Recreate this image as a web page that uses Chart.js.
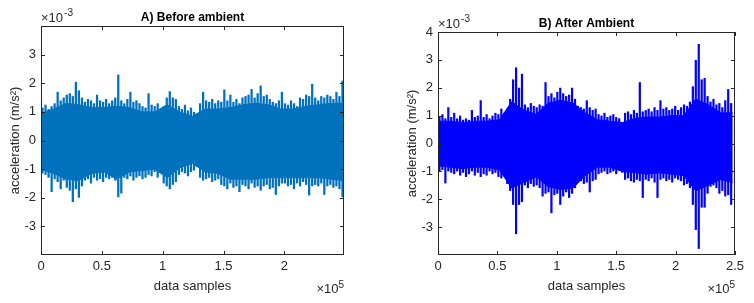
<!DOCTYPE html>
<html>
<head>
<meta charset="utf-8">
<script src="https://cdn.jsdelivr.net/npm/chart.js@4.4.0/dist/chart.umd.min.js"></script>
<style>
body{margin:0;background:#fff;}
.box{position:absolute;top:0;width:377px;height:303px;}
</style>
</head>
<body>
<div class="box" style="left:0"><canvas id="chartA" width="377" height="303"></canvas></div>
<div class="box" style="left:377px"><canvas id="chartB" width="377" height="303"></canvas></div>
<script>
// peak envelope of the record, one max/min pair per bin (units of 1e-3 m/s^2)
let beforeHigh=[1.15,1.25,1.1,1.2, 1.3,1.7,1.4,1.5, 1.6,1.65,1.55,2.05, 1.75,1.5,
  1.35,1.45,1.4,1.3,1.6,1.4,1.35,1.45,1.3,1.4,1.5, 2.3,
  1.4,1.3,1.45,1.7,1.35,1.4,1.3, 1.2,1.15,1.65,1.25,1.2,1.3,1.1,1.2,
  1.5,1.72,1.5,1.45, 1.2,1.1,1.25,1.05,1.15,1.0,0.95,
  1.3,1.7,1.4,1.35,1.45,1.3,1.4, 1.35,1.78,1.4,1.6,1.35,1.45,1.3,1.5,
  1.55,1.6,1.8,1.5,1.65,1.92,1.55,1.6,1.45, 1.35,1.3,1.4,1.7,1.3,1.25,1.4,1.3,1.2,
  1.5,1.45,1.6,1.55,1.98,1.5,1.4,1.55, 1.5,1.6,1.55,1.45,1.7,1.55,2.09];
let beforeLow=[-1.15,-1.2,-1.3,-1.8, -1.35,-1.45,-1.7,-1.4, -1.65,-1.75,-2.15,-1.7, -2.0,-1.6,
  -1.4,-1.35,-1.5,-1.3,-1.4,-1.35,-1.45,-1.3,-1.35,-1.3,-1.4, -1.98,-1.85,
  -1.3,-1.35,-1.25,-1.4,-1.3,-1.25,-1.35,-1.3,-1.2,-1.25,-1.1,-1.3, -0.95,
  -1.5,-1.6,-1.7,-1.55,-1.45, -1.2,-1.1,-1.15,-1.25,-1.1,-1.05,-0.93,
  -1.3,-1.4,-1.35,-1.3,-1.45,-1.4,-1.35,
  -1.55,-1.6,-1.7,-1.5,-1.65,-1.6,-1.8,-1.55,-1.6,-1.7,-1.5,-1.65,-1.6,-1.75,
  -1.6,-1.55,-1.7,-1.65,-1.9,-1.6,-1.5, -1.5,-1.6,-1.55,-1.7,-1.5,-1.6,-1.45,-1.55,-1.92,-1.6,
  -1.55,-1.6,-1.5,-1.9,-1.6,-1.55,-1.65,-1.6,-1.7,-1.98];
let afterHigh=[0.95,1.05,0.9,1.3, 0.95,1.1,0.9,1.0,0.85,
  0.9,0.85,1.2,0.95,1.0,1.55,0.95,1.05,0.9,1.0,1.1, 1.05,1.25,1.1,1.15,
  1.6,2.3,2.73,2.0,2.5, 1.4,1.3,1.45,1.35,1.3,1.4,1.35, 2.2,
  1.7,1.8,1.65,1.85,2.0,1.8,1.7,1.75,2.0,1.6, 1.35,1.3,1.25,1.55,1.3,1.2,1.25,
  1.05,1.0,1.1,0.95,1.0,1.05,0.95,0.9,0.7, 1.1,1.15,1.05,1.2,1.1,2.2,1.15,
  1.2,1.25,1.15,1.3,1.2,1.55,1.25,1.3,1.2,1.25,1.35,1.2,1.3,1.4,1.35,1.5,
  2.05,3.0,3.57,2.3, 2.35,1.7,1.5,1.6,1.4, 1.45,1.3,1.55,1.95,1.45];
let afterLow=[-1.0,-0.95,-1.43,-1.0,-1.05,
  -1.1,-1.0,-1.15,-1.05,-1.2,-1.1,-1.0,-1.15,-1.05,-1.2,-1.1,-1.15,-1.0,-1.1,-1.05,
  -1.2,-1.25,-1.15,-1.45, -1.7,-2.2,-3.25,-2.2,-2.1,
  -1.5,-1.6,-1.45,-1.55,-1.5,-1.6,-1.9,
  -1.8,-1.75,-2.5,-1.85,-1.8,-2.2,-1.9,-1.75,-1.95,-1.8,-1.6,
  -1.4,-1.35,-1.45,-1.4,-1.75,-1.35,-1.3,
  -1.1,-1.05,-1.0,-1.1,-1.05,-1.0,-1.1,-0.95,-1.05,
  -1.3,-1.25,-1.35,-1.4,-1.3,-1.35,-1.95,
  -1.3,-1.35,-1.25,-1.4,-1.95,-1.3,-1.25,-1.35,-1.3,-1.4,-1.25,-1.3,-1.35,-1.5,-1.45,-1.6,
  -2.2,-3.1,-3.78,-2.3, -2.3,-1.8,-1.55,-1.5,-1.6, -1.8,-1.7,-1.9,-1.85,-2.2];

// level of the dense (solid) part of the trace, coarser sampling
let beforeCoreHigh=[0.95,1.1,1.3,1.25,1.15,1.15,1.2,1.15,1.0,1.0,1.25,1.0,0.85,
  1.1,1.1,1.15,1.25,1.3,1.25,1.1,1.1,1.2,1.25,1.3,1.3];
let beforeCoreLow=[-1.0,-1.15,-1.35,-1.4,-1.15,-1.1,-1.35,-1.1,-1.05,-1.0,-1.3,-0.95,-0.8,
  -1.1,-1.15,-1.35,-1.35,-1.35,-1.3,-1.3,-1.3,-1.3,-1.3,-1.35,-1.4];
let afterCoreHigh=[0.8,0.8,0.75,0.8,0.8,0.85,1.5,1.2,1.05,1.45,1.55,1.45,1.1,
  0.85,0.8,0.75,0.9,0.95,0.95,1.0,1.0,1.6,1.4,1.1,1.1];
let afterCoreLow=[-0.8,-0.85,-0.9,-0.85,-0.85,-0.95,-1.6,-1.4,-1.2,-1.55,-1.65,-1.6,-1.15,
  -0.85,-0.85,-1.0,-1.05,-1.1,-1.05,-1.1,-1.15,-1.7,-1.5,-1.3,-1.4];

// record lengths (units of 1e5 samples)
let beforeSpan=2.49;
let afterSpan=2.48;

let xTicksA=[0,0.5,1,1.5,2];
let xTicksB=[0,0.5,1,1.5,2,2.5];
let yTicksA=[-3,-2,-1,0,1,2,3];
let yTicksB=[-3,-2,-1,0,1,2,3,4];

let ink="#262626";
let font="'Liberation Sans', Arial, sans-serif";

function bins(high,low,span){
    return high.map(function(h,i){
        return {x:(i+0.5)*span/high.length, y:[low[i],h]};
    });
}

function points(vals,span){
    return vals.map(function(v,i){
        return {x:i*span/(vals.length-1), y:v};
    });
}

function framePlugin(title){
    return {
        id:"frame",
        afterDraw:function(chart){
            let ctx=chart.ctx;
            let a=chart.chartArea;
            let xs=chart.scales.x, ys=chart.scales.y;
            ctx.save();
            ctx.strokeStyle=ink;
            ctx.lineWidth=1;
            ctx.beginPath();
            xs.ticks.forEach(function(t){
                let px=Math.round(xs.getPixelForValue(t.value))+0.5;
                ctx.moveTo(px,a.bottom); ctx.lineTo(px,a.bottom-4);
                ctx.moveTo(px,a.top); ctx.lineTo(px,a.top+4);
            });
            ys.ticks.forEach(function(t){
                let py=Math.round(ys.getPixelForValue(t.value))+0.5;
                ctx.moveTo(a.left,py); ctx.lineTo(a.left+4,py);
                ctx.moveTo(a.right,py); ctx.lineTo(a.right-4,py);
            });
            ctx.stroke();
            ctx.strokeRect(a.left+0.5,a.top+0.5,a.right-a.left-1,a.bottom-a.top-1);

            ctx.fillStyle="#000";
            ctx.font="bold 12px "+font;
            ctx.textAlign="center";
            ctx.textBaseline="alphabetic";
            ctx.fillText(title,(a.left+a.right)/2,a.top-5.5);

            // exponent labels
            ctx.fillStyle=ink;
            ctx.textAlign="left";
            ctx.font="13px "+font;
            let w=ctx.measureText("\u00d710").width;
            ctx.fillText("\u00d710",a.left,a.top-4);
            ctx.font="10px "+font;
            ctx.fillText("-3",a.left+w+1,a.top-10);

            let w5=ctx.measureText("5").width;
            ctx.textAlign="right";
            ctx.fillText("5",a.right,a.bottom+33);
            ctx.font="13px "+font;
            ctx.fillText("\u00d710",a.right-w5,a.bottom+38);
            ctx.restore();
        }
    };
}

function makeChart(id,high,low,coreHigh,coreLow,span,color,xMax,xTicks,yTicks,pad,yWidth,yTitlePad,title){
    return new Chart(document.getElementById(id),{
        type:"bar",
        data:{
            datasets:[{
                type:"line",
                data:points(coreHigh,span),
                borderColor:color,
                borderWidth:1,
                pointRadius:0,
                tension:0,
                fill:false
            },{
                type:"line",
                data:points(coreLow,span),
                borderColor:color,
                backgroundColor:color,
                borderWidth:1,
                pointRadius:0,
                tension:0,
                fill:"-1"
            },{
                type:"bar",
                data:bins(high,low,span),
                backgroundColor:color,
                borderWidth:0,
                barPercentage:0.75,
                categoryPercentage:1
            }]
        },
        options:{
            responsive:false,
            animation:false,
            devicePixelRatio:1,
            layout:{padding:pad},
            plugins:{legend:{display:false},tooltip:{enabled:false}},
            scales:{
                x:{
                    type:"linear",
                    min:0,
                    max:xMax,
                    offset:false,
                    grid:{display:false,drawTicks:false},
                    border:{display:false},
                    afterBuildTicks:function(s){ s.ticks=xTicks.map(function(v){return {value:v};}); },
                    afterFit:function(s){ s.height=48; },
                    ticks:{
                        color:ink,
                        font:{family:font,size:13},
                        padding:4,
                        maxRotation:0,
                        autoSkip:false,
                        callback:function(v){ return String(v); }
                    },
                    title:{
                        display:true,
                        text:"data samples",
                        color:ink,
                        font:{family:font,size:13},
                        padding:{top:0,bottom:9}
                    }
                },
                y:{
                    min:-4,
                    max:4,
                    grid:{display:false,drawTicks:false},
                    border:{display:false},
                    afterBuildTicks:function(s){ s.ticks=yTicks.map(function(v){return {value:v};}); },
                    afterFit:function(s){ s.width=yWidth; },
                    ticks:{
                        color:ink,
                        font:{family:font,size:13},
                        padding:5,
                        callback:function(v){ return String(v); }
                    },
                    title:{
                        display:true,
                        text:"acceleration (m/s\u00b2)",
                        color:ink,
                        font:{family:font,size:13},
                        padding:{top:yTitlePad,bottom:0}
                    }
                }
            }
        },
        plugins:[framePlugin(title)]
    });
}

makeChart("chartA",beforeHigh,beforeLow,beforeCoreHigh,beforeCoreLow,beforeSpan,"#0072BD",2.49,
    xTicksA,yTicksA,{top:26,right:33,left:0,bottom:0},41,8,"A) Before ambient");
makeChart("chartB",afterHigh,afterLow,afterCoreHigh,afterCoreLow,afterSpan,"#0000FF",2.5,
    xTicksB,yTicksB,{top:32,right:19,left:0,bottom:0},61,28,"B) After Ambient");
</script>
</body>
</html>
